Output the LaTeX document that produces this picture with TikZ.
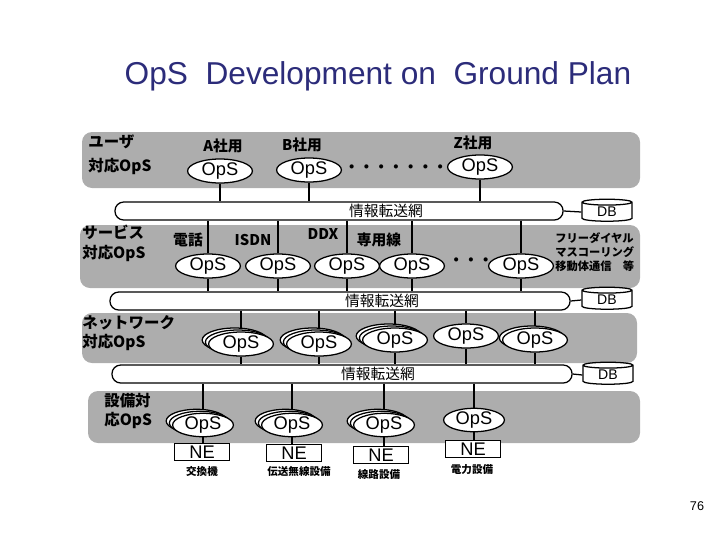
\documentclass[tikz,border=0pt]{standalone}
\usepackage{fontspec}
\setmainfont{Liberation Sans}
\newfontfamily\jp{Noto Sans CJK JP}
\usetikzlibrary{shapes.geometric,shadows,positioning,backgrounds}
\definecolor{titleblue}{RGB}{44,44,122}

\begin{document}
\begin{tikzpicture}[x=0.025cm, y=-0.025cm,
    layer/.style={fill=black!32, rounded corners=0.25cm},
    bus/.style={draw, fill=white, line width=0.9pt, rounded corners=0.22cm, minimum height=0.45cm, inner sep=0},
    ops/.style={draw, ellipse, fill=white, line width=0.9pt, minimum width=1.62cm, minimum height=0.6cm, inner sep=0, font=\fontsize{13}{13}\selectfont},
    opsstack/.style={ops, double copy shadow={shadow xshift=-0.8mm, shadow yshift=0.5mm}},
    opsdouble/.style={ops, copy shadow={shadow xshift=-0.8mm, shadow yshift=0.5mm}},
    db/.style={draw, cylinder, shape border rotate=90, aspect=0.3, fill=white, line width=0.9pt, minimum width=1.25cm, minimum height=0.55cm, inner sep=0, font=\fontsize{10}{10}\selectfont},
    ne/.style={draw, fill=white, line width=0.9pt, minimum width=1.38cm, minimum height=0.42cm, inner sep=0, font=\fontsize{13}{13}\selectfont},
    side/.style={font=\jp\bfseries\fontsize{11}{14}\selectfont, align=left, inner sep=0, anchor=west},
    tag/.style={font=\jp\bfseries\fontsize{10.5}{12}\selectfont, inner sep=0},
    buslab/.style={font=\jp\fontsize{10.5}{12}\selectfont, inner sep=0},
    small/.style={font=\jp\bfseries\fontsize{7.5}{10}\selectfont, inner sep=0},
    link/.style={line width=0.9pt}
]
    \useasboundingbox (0,0) rectangle (720,540);
    \node[font=\fontsize{22.5}{26}\selectfont, text=titleblue] (title) at (378,76) {OpS\ \ Development on\ \ Ground Plan};
    \node[font=\fontsize{9}{9}\selectfont] (page) at (697,506) {76};

    \node[side, font=\jp\bfseries\fontsize{11}{17}\selectfont] (user) at (88,155) {ユーザ\\対応OpS};
    \node[side] (service) at (82,243) {サービス\\対応OpS};
    \node[side] (network) at (82,333) {ネットワーク\\対応OpS};
    \node[side, font=\jp\bfseries\fontsize{11}{13}\selectfont] (facility) at (104,411) {設備対\\応OpS};

    % user layer
    \node[tag] (ua) at (223,146) {A社用};
    \node[tag] (ub) at (302,145) {B社用};
    \node[tag] (uz) at (473,143) {Z社用};
    \node[ops] (u1) at (220,171) {OpS};
    \node[ops] (u2) at (309,170) {OpS};
    \node[ops] (u3) at (480,167) {OpS};
    \node[tag] (udots) at (396,169) {・・・・・・・};

    \node[bus, minimum width=11.2cm] (bus1) at (339,211) {};
    \node[buslab] (bus1lab) at (386,211) {情報転送網};
    \node[db] (db1) at (607,212) {\raisebox{-0.12cm}{DB}};

    % service layer
    \node[tag] (sa) at (188,240) {電話};
    \node[tag] (sb) at (253,240) {ISDN};
    \node[tag] (sc) at (323,234) {DDX};
    \node[tag] (sd) at (379,240) {専用線};
    \node[ops] (s1) at (208,266) {OpS};
    \node[ops] (s2) at (278,266) {OpS};
    \node[ops] (s3) at (347,266) {OpS};
    \node[ops] (s4) at (412,266) {OpS};
    \node[ops] (s5) at (521,266) {OpS};
    \node[tag] (sdots) at (471,262) {・・・};
    \node[small, font=\jp\bfseries\fontsize{8}{10}\selectfont, align=left, anchor=west] (sother) at (555,252) {フリーダイヤル\\マスコーリング\\移動体通信　等};

    \node[bus, minimum width=11.5cm] (bus2) at (340,301) {};
    \node[buslab] (bus2lab) at (382,301) {情報転送網};
    \node[db] (db2) at (607,300) {\raisebox{-0.12cm}{DB}};

    % network layer
    \node[opsstack] (n1) at (241,344) {OpS};
    \node[opsstack] (n2) at (319,344) {OpS};
    \node[opsstack] (n3) at (395,340) {OpS};
    \node[ops] (n4) at (466,336) {OpS};
    \node[opsdouble] (n5) at (535,340) {OpS};

    \node[bus, minimum width=11.5cm] (bus3) at (342,374) {};
    \node[buslab] (bus3lab) at (378,374) {情報転送網};
    \node[db] (db3) at (608,375) {\raisebox{-0.12cm}{DB}};

    % facility layer
    \node[opsstack, minimum width=1.52cm, minimum height=0.52cm] (e1) at (203,425) {OpS};
    \node[opsstack, minimum width=1.52cm, minimum height=0.52cm] (e2) at (292,425) {OpS};
    \node[opsstack, minimum width=1.52cm, minimum height=0.52cm] (e3) at (384,425) {OpS};
    \node[ops, minimum width=1.52cm, minimum height=0.52cm] (e4) at (474,420) {OpS};
    \node[ne] (ne1) at (202,452) {NE};
    \node[ne] (ne2) at (294,453) {NE};
    \node[ne] (ne3) at (381,455) {NE};
    \node[ne] (ne4) at (473,449) {NE};
    \node[small] (kind1) at (202,471) {交換機};
    \node[small] (kind2) at (299,471) {伝送無線設備};
    \node[small] (kind3) at (379,474) {線路設備};
    \node[small] (kind4) at (472,470) {電力設備};

    \begin{scope}[on background layer]
    % layers
    \fill[layer] (82,132) rectangle (640,188);
    \fill[layer] (80,225) rectangle (640,288);
    \fill[layer] (82,313) rectangle (637,363);
    \fill[layer] (88,391) rectangle (640,443);
    % connections
    \draw[link] (u1.south) -- (u1.south |- bus1.north);
    \draw[link] (u2.south) -- (u2.south |- bus1.north);
    \draw[link] (u3.south) -- (u3.south |- bus1.north);
    \draw[link] (bus1.east) -- (db1.west);
    \draw[link] (s1.north |- bus1.south) -- (s1.north) (s1.south) -- (s1.south |- bus2.north);
    \draw[link] (s2.north |- bus1.south) -- (s2.north) (s2.south) -- (s2.south |- bus2.north);
    \draw[link] (s3.north |- bus1.south) -- (s3.north) (s3.south) -- (s3.south |- bus2.north);
    \draw[link] (s4.north |- bus1.south) -- (s4.north) (s4.south) -- (s4.south |- bus2.north);
    \draw[link] (s5.north |- bus1.south) -- (s5.north) (s5.south) -- (s5.south |- bus2.north);
    \draw[link] (bus2.east) -- (db2.west);
    \draw[link] (n1.north |- bus2.south) -- (n1.north) (n1.south) -- (n1.south |- bus3.north);
    \draw[link] (n2.north |- bus2.south) -- (n2.north) (n2.south) -- (n2.south |- bus3.north);
    \draw[link] (n3.north |- bus2.south) -- (n3.north) (n3.south) -- (n3.south |- bus3.north);
    \draw[link] (n4.north |- bus2.south) -- (n4.north) (n4.south) -- (n4.south |- bus3.north);
    \draw[link] (n5.north |- bus2.south) -- (n5.north) (n5.south) -- (n5.south |- bus3.north);
    \draw[link] (bus3.east) -- (db3.west);
    \draw[link] (e1.north |- bus3.south) -- (e1.north) (e1.south) -- (e1.south |- ne1.north);
    \draw[link] (e2.north |- bus3.south) -- (e2.north) (e2.south) -- (e2.south |- ne2.north);
    \draw[link] (e3.north |- bus3.south) -- (e3.north) (e3.south) -- (e3.south |- ne3.north);
    \draw[link] (e4.north |- bus3.south) -- (e4.north) (e4.south) -- (e4.south |- ne4.north);
    \end{scope}
\end{tikzpicture}
\end{document}
